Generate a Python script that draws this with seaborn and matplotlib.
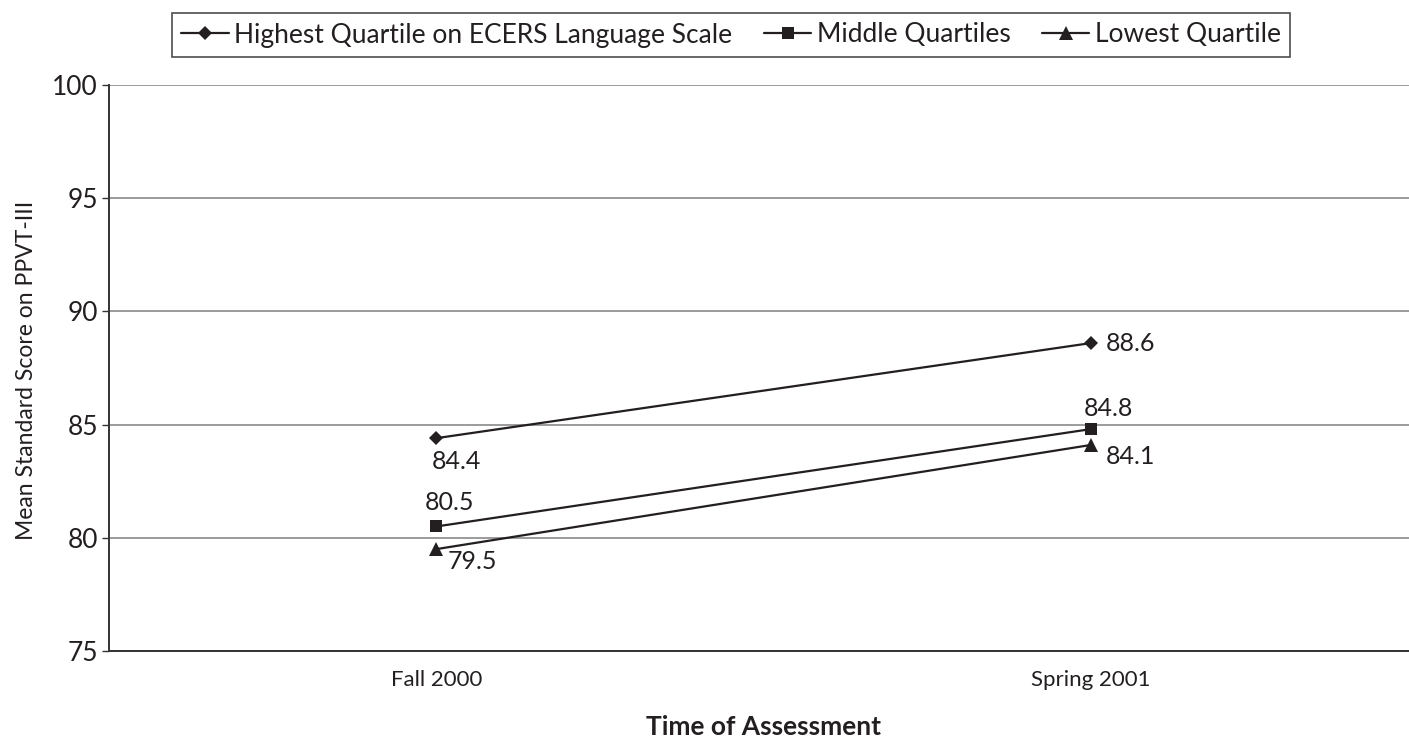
import matplotlib
matplotlib.use("Agg")
import matplotlib.pyplot as plt
import seaborn as sns
import pandas as pd

# Assessment waves and mean PPVT-III standard scores per ECERS language quartile group
waves = ["Fall 2000", "Spring 2001"]
groups = ["Highest Quartile on ECERS Language Scale", "Middle Quartiles", "Lowest Quartile"]
highest = [84.4, 88.6]
middle = [80.5, 84.8]
lowest = [79.5, 84.1]
y_ticks = [75, 80, 85, 90, 95, 100]

records = []
for g, vals in zip(groups, [highest, middle, lowest]):
    for i, v in enumerate(vals):
        records.append({"wave": i, "score": v, "group": g})
df = pd.DataFrame(records)

sns.set_theme(style="white")
plt.rcParams["font.family"] = ["Lato", "DejaVu Sans"]
INK = "#231f20"

W, H = 1409, 742
fig = plt.figure(figsize=(W / 100, H / 100), dpi=100)
ax = fig.add_axes([109 / W, 1 - 651 / H, (1418 - 109) / W, (651 - 85) / H])

markers = {groups[0]: "D", groups[1]: "s", groups[2]: "^"}
sns.lineplot(data=df, x="wave", y="score", hue="group", style="group",
             markers=markers, dashes=False, palette=[INK] * 3,
             linewidth=1.6, markersize=9, ax=ax, legend=False)

sizes = [7.5, 8, 9.5]
for line, s in zip(ax.lines, sizes):
    line.set_markersize(s)
    line.set_markeredgewidth(0)

ax.set_xlim(-0.5, 1.5)
ax.set_ylim(75, 100)
ax.set_yticks(y_ticks)
ax.set_yticklabels([str(t) for t in y_ticks], fontsize=19, color=INK)
ax.set_xticks([0, 1])
ax.set_xticklabels(waves, fontsize=16, color=INK)
ax.set_xticks([-0.5, 0.5, 1.5], minor=True)
ax.tick_params(axis="x", which="major", length=0, pad=14)
ax.tick_params(axis="x", which="minor", length=6, width=1, color="#333333", direction="out")
ax.tick_params(axis="y", length=5, width=1, color="#333333", direction="out", left=True, pad=3)

ax.grid(axis="y", color="#8a8a8a", linewidth=1.2)
ax.set_axisbelow(True)
for side in ["top", "right"]:
    ax.spines[side].set_visible(False)
for side in ["left", "bottom"]:
    ax.spines[side].set_color("#333333")
    ax.spines[side].set_linewidth(1.4)

ax.set_ylabel("Mean Standard Score on PPVT-III", fontsize=16.5, color=INK)
ax.yaxis.set_label_coords(-72 / (1418 - 109), (651 - 370) / (651 - 85))
ax.set_xlabel("Time of Assessment", fontsize=19, fontweight="bold", color=INK)
ax.xaxis.set_label_coords(0.5, -0.113)

# value labels placed around each marker
offsets = {
    (0, 0): (-3, -16.5), (0, 1): (11, 0),
    (1, 0): (-8, 17), (1, 1): (-5, 15),
    (2, 0): (8, -9), (2, 1): (11, -8),
}
for gi, vals in enumerate([highest, middle, lowest]):
    for wi, v in enumerate(vals):
        dx, dy = offsets[(gi, wi)]
        ax.annotate(f"{v:.1f}", (wi, v), xytext=(dx, dy), textcoords="offset points",
                    ha="left", va="center", fontsize=18, color=INK)

handles = ax.lines[:3]
leg = fig.legend(handles, groups, loc="center", bbox_to_anchor=(731 / W, 1 - 35 / H),
                 ncol=3, fontsize=19, frameon=True, fancybox=False, edgecolor=INK,
                 handlelength=1.8, handletextpad=0.2, columnspacing=1.2,
                 borderpad=0.35)
leg.get_frame().set_linewidth(1.2)
for t in leg.get_texts():
    t.set_color(INK)

fig.savefig("out.png", dpi=100, facecolor="white")
